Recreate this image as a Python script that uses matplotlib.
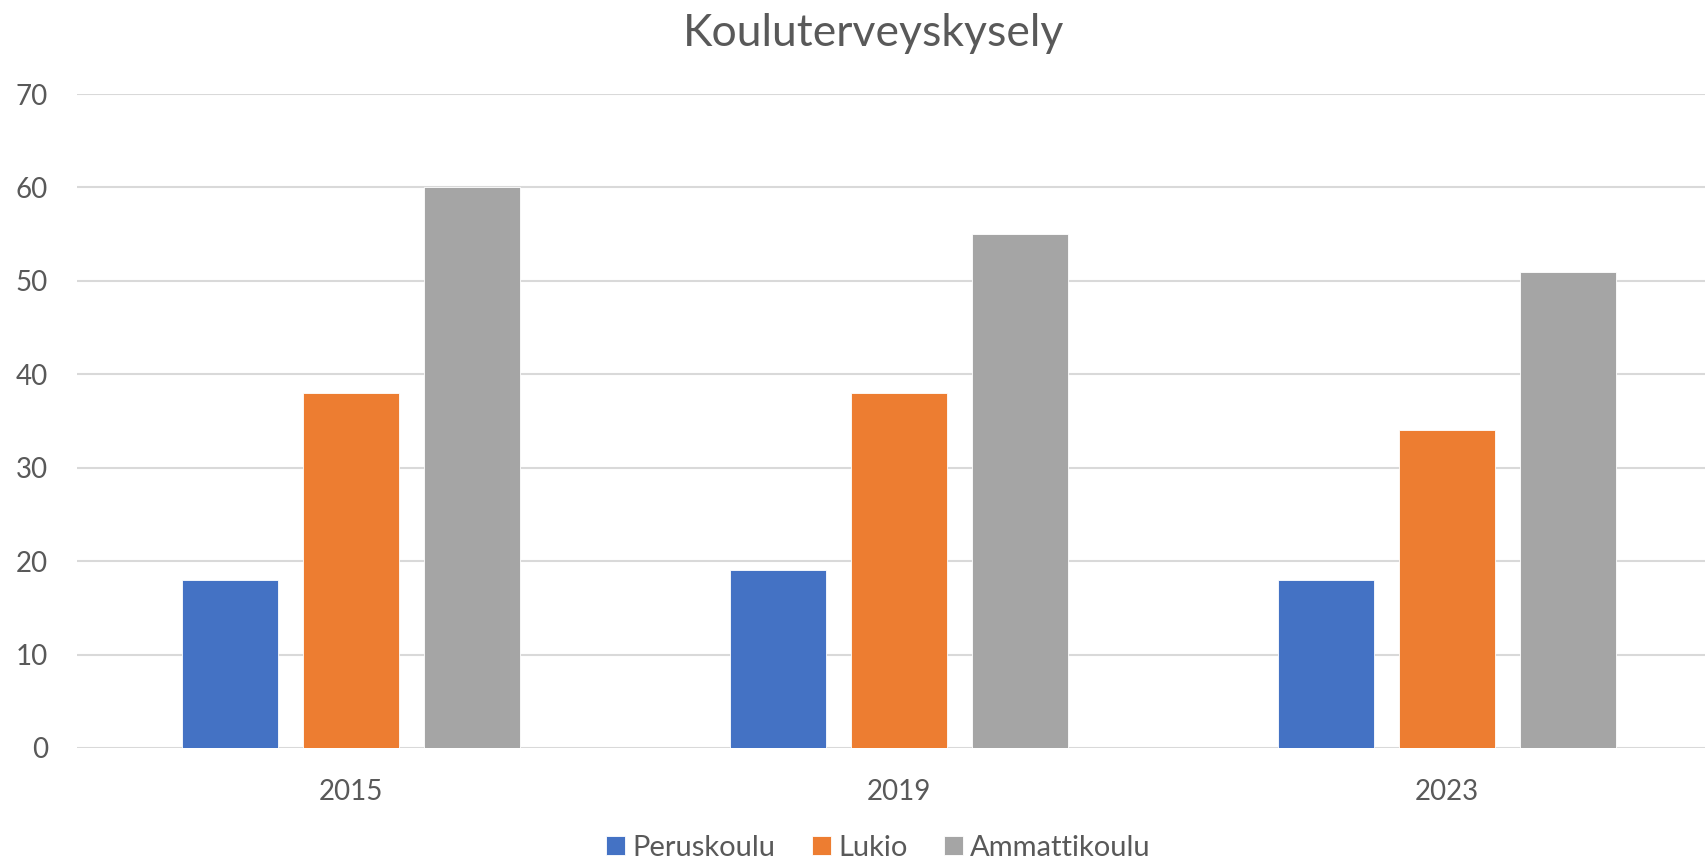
import matplotlib
matplotlib.use("Agg")
import matplotlib.pyplot as plt
import numpy as np

years = ["2015", "2019", "2023"]
series = ["Peruskoulu", "Lukio", "Ammattikoulu"]
peruskoulu = [18, 19, 18]
lukio = [38, 38, 34]
ammattikoulu = [60, 55, 51]
colors = ["#4472C4", "#ED7D31", "#A5A5A5"]
yticks = [0, 10, 20, 30, 40, 50, 60, 70]

plt.rcParams["font.family"] = ["Lato", "DejaVu Sans"]
txt = "#595959"

fig = plt.figure(figsize=(17.06, 8.64), dpi=100)
# plot area runs a little past the right edge, like the original
ax = fig.add_axes([0.0451, 0.1343, 0.9637, 0.7569])

x = np.arange(len(years))
w = 0.175
step = 0.221
for i, (vals, c, name) in enumerate(zip([peruskoulu, lukio, ammattikoulu], colors, series)):
    ax.bar(x + (i - 1) * step, vals, width=w, color=c, edgecolor="white",
           linewidth=0.6, label=name, zorder=3)

ax.set_xlim(-0.5, len(years) - 0.5)
ax.set_ylim(0, 70)
ax.set_yticks(yticks)
ax.set_xticks(x)
ax.set_xticklabels(years)
ax.grid(axis="y", color="#d9d9d9", linewidth=1.5, zorder=0)
for s in ax.spines.values():
    s.set_visible(False)
ax.tick_params(axis="both", length=0, colors=txt, labelsize=20)
ax.tick_params(axis="y", pad=21)
ax.tick_params(axis="x", pad=22)

fig.text(0.512, 1 - 33 / 864, "Kouluterveyskysely", ha="center", va="center",
         fontsize=32, color=txt)

fig.legend(loc="center", bbox_to_anchor=(0.515, 1 - 848 / 864), ncol=3,
           frameon=False, fontsize=21, labelcolor=txt, handlelength=0.65,
           handleheight=0.65, handletextpad=0.25, columnspacing=1.25)

fig.savefig("out.png", dpi=100, facecolor="white")
